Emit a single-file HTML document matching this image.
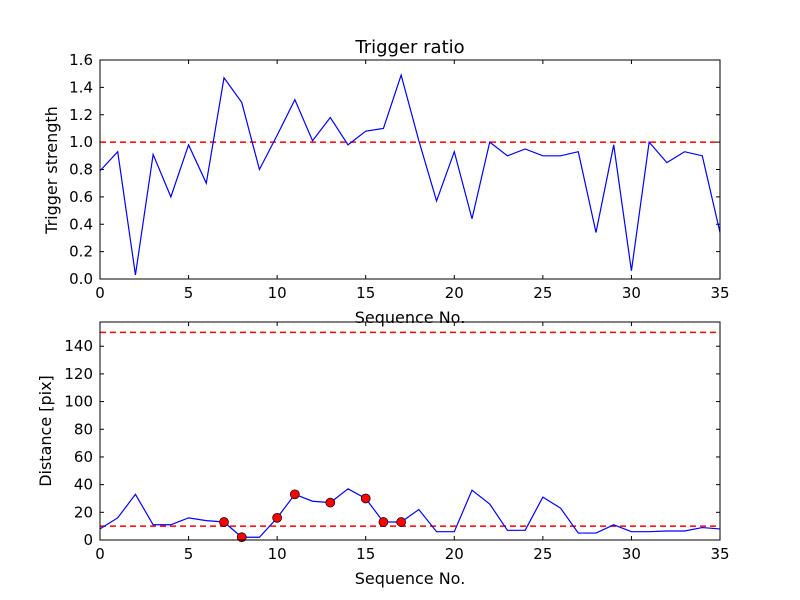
<!DOCTYPE html>
<html><head><meta charset="utf-8"><style>
body{margin:0;background:#fff}
svg{display:block;font-family:"DejaVu Sans","Liberation Sans",sans-serif}
</style></head><body>
<svg id="c" width="800" height="600" viewBox="0 0 800 600"></svg>
<script>
const seq = Array.from({length:36},(_,i)=>i);
const ratio = [0.79,0.93,0.03,0.91,0.60,0.98,0.70,1.47,1.29,0.80,1.05,1.31,1.01,1.18,0.98,1.08,1.10,1.49,1.01,0.57,0.93,0.44,1.00,0.90,0.95,0.90,0.90,0.93,0.34,0.98,0.06,1.00,0.85,0.93,0.90,0.34];
const dist = [8,16,33,11,11,16,14,13,2,2,16,33,28,27,37,30,13,13,22,6,6,36,26,7,7,31,23,5,5,11,6,6,6.5,6.5,9,8];
const flagged = [7,8,10,11,13,15,16,17];
const ratioThreshold = 1.0;
const distThresholds = [150,10];
const xTicks = [0,5,10,15,20,25,30,35];
const yTicksTop = [0,0.2,0.4,0.6,0.8,1.0,1.2,1.4,1.6];
const yTicksBot = [0,20,40,60,80,100,120,140];

const NS="http://www.w3.org/2000/svg", svg=document.getElementById('c');
function el(t,a,p){const e=document.createElementNS(NS,t);for(const k in a)e.setAttribute(k,a[k]);(p||svg).appendChild(e);return e;}
function panel(y0,y1,ymax,yticks,fmt,name){
  const X=v=>100+v*620/35, Y=v=>y1-v*(y1-y0)/ymax;
  const g=el('g',{});
  
  
  xTicks.forEach(t=>{
    el('line',{x1:X(t),x2:X(t),y1:y1,y2:y1-4,stroke:'#000'},g);
    el('line',{x1:X(t),x2:X(t),y1:y0,y2:y0+4,stroke:'#000'},g);
    const tx=el('text',{x:X(t),y:y1+19,'text-anchor':'middle','font-size':15},g);tx.textContent=t;
    
  });
  yticks.forEach(t=>{
    el('line',{x1:100,x2:104,y1:Y(t),y2:Y(t),stroke:'#000'},g);
    el('line',{x1:716,x2:720,y1:Y(t),y2:Y(t),stroke:'#000'},g);
    const tx=el('text',{x:93,y:Y(t)+5,'text-anchor':'end','font-size':15},g);tx.textContent=fmt(t);
    
  });
  return {g,X,Y};
}
// top
let p=panel(60,279,1.6,yTicksTop,t=>t.toFixed(1),'ratio-panel');
let l=el('line',{x1:100,x2:720,y1:p.Y(ratioThreshold),y2:p.Y(ratioThreshold),stroke:'red','stroke-width':1.5,'stroke-dasharray':'6,4'},p.g);

let pl=el('polyline',{points:seq.map(i=>p.X(i)+','+p.Y(ratio[i])).join(' '),fill:'none',stroke:'blue','stroke-width':1.2},p.g);

el('rect',{x:100,y:60,width:620,height:219,fill:'none',stroke:'#000'},p.g);
let t=el('text',{x:410,y:53,'text-anchor':'middle','font-size':18});t.textContent='Trigger ratio';

t=el('text',{x:410,y:323,'text-anchor':'middle','font-size':16});t.textContent='Sequence No.';

t=el('text',{x:57,y:170,'text-anchor':'middle','font-size':16,transform:'rotate(-90 57 170)'});t.textContent='Trigger strength';

// bottom
p=panel(322,540,157.5,yTicksBot,t=>t,'distance-panel');
distThresholds.forEach(v=>{
  const d=el('line',{x1:100,x2:720,y1:p.Y(v),y2:p.Y(v),stroke:'red','stroke-width':1.5,'stroke-dasharray':'6,4'},p.g);
  
});
pl=el('polyline',{points:seq.map(i=>p.X(i)+','+p.Y(dist[i])).join(' '),fill:'none',stroke:'blue','stroke-width':1.2},p.g);

flagged.forEach(i=>{
  const c=el('circle',{cx:p.X(i),cy:p.Y(dist[i]),r:4.5,fill:'red',stroke:'#000','stroke-width':0.7},p.g);
  
});
el('rect',{x:100,y:322,width:620,height:218,fill:'none',stroke:'#000'},p.g);
t=el('text',{x:410,y:584,'text-anchor':'middle','font-size':16});t.textContent='Sequence No.';

t=el('text',{x:51,y:431,'text-anchor':'middle','font-size':16,transform:'rotate(-90 51 431)'});t.textContent='Distance [pix]';

</script>
</body></html>
